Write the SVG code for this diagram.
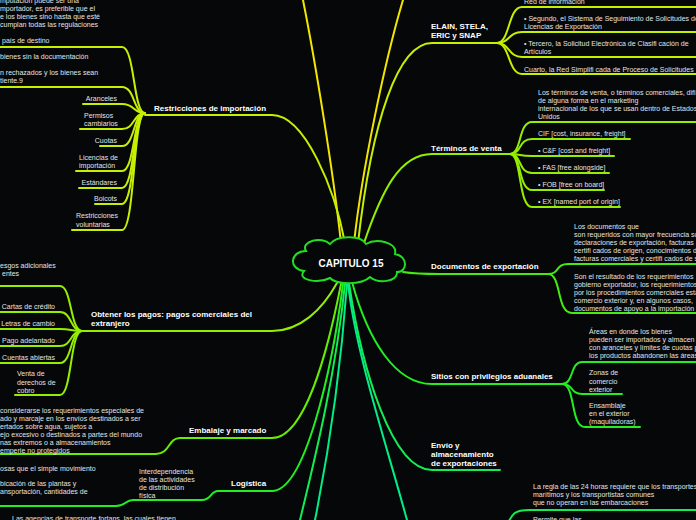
<svg xmlns="http://www.w3.org/2000/svg" width="696" height="520" viewBox="0 0 696 520">
<style>
.c{fill:none;stroke-width:2;stroke-linecap:round}
.t{font-family:"Liberation Sans",Arial,sans-serif;font-size:7px;fill:#e4e4e4}
.h{font-family:"Liberation Sans",Arial,sans-serif;font-size:8px;font-weight:bold;fill:#ffffff}
.e{text-anchor:end}
.y{stroke:#f2e600}.yg{stroke:#c6f000}.g1{stroke:#95ee00}.g2{stroke:#66ee00}.g3{stroke:#44ea10}.g4{stroke:#22ee22}.g5{stroke:#11ee55}.g6{stroke:#00ee88}
</style>
<rect width="696" height="520" fill="#050708"/>
<g id="connectors">
<path class="c y" d="M341,243 C333,170 315,60 303,0"/>
<path class="c y" d="M354,243 C362,170 385,60 403,0"/>
<path class="c yg" d="M358,243 C372,120 398,43 432,43 H497"/>
<path class="c yg" d="M497,43 C510,43 508,7 522,7 H696"/>
<path class="c yg" d="M497,43 C510,43 508,32 522,32 H696"/>
<path class="c yg" d="M497,43 C510,43 508,57 522,57 H696"/>
<path class="c yg" d="M497,43 C510,43 508,74 522,74 H696"/>
<path class="c g1" d="M364,243 C382,190 400,154 432,154 H510"/>
<path class="c g1" d="M510,154 C522,154 518,122 532,122 H696"/>
<path class="c g1" d="M510,154 C522,154 518,139 532,139 H630"/>
<path class="c g1" d="M510,154 C522,154 518,156 532,156 H614"/>
<path class="c g1" d="M510,154 C522,154 518,173 532,173 H609"/>
<path class="c g1" d="M510,154 C522,154 518,190 532,190 H604"/>
<path class="c g1" d="M510,154 C522,154 518,207 532,207 H620"/>
<path class="c g3" d="M403,272 C415,274 425,274 440,274 H548"/>
<path class="c g3" d="M548,274 C560,274 555,264 568,264 H696"/>
<path class="c g3" d="M548,274 C562,274 556,313 572,313 H696"/>
<path class="c g4" d="M352,282 C368,340 395,384 432,384 H562"/>
<path class="c g4" d="M562,384 C574,384 570,362 582,362 H696"/>
<path class="c g4" d="M562,384 C574,384 570,394 582,394 H622"/>
<path class="c g4" d="M562,384 C576,384 570,427 585,427 H640"/>
<path class="c g5" d="M349,283 C362,370 392,470 432,470 H500"/>
<path class="c g6" d="M348,283 C355,350 385,440 407,520"/>
<path class="c g5" d="M505,530 C512,512 515,510 530,510 H696"/>
<path class="c yg" d="M345,243 C335,190 305,115 272,115 H145"/>
<path class="c yg" d="M145,113 C133,113 135,47 122,47 H0"/>
<path class="c yg" d="M145,113 C133,113 135,87 122,87 H0"/>
<path class="c yg" d="M145,113 C133,113 135,104 122,104 H83"/>
<path class="c yg" d="M145,113 C133,113 135,129 122,129 H80"/>
<path class="c yg" d="M145,113 C133,113 135,146 122,146 H100"/>
<path class="c yg" d="M145,113 C133,113 135,171 122,171 H76"/>
<path class="c yg" d="M145,113 C133,113 135,188 122,188 H79"/>
<path class="c yg" d="M145,113 C133,113 135,204 122,204 H95"/>
<path class="c yg" d="M145,113 C133,113 135,230 122,230 H72"/>
<path class="c g1" d="M337,283 C322,310 300,331 272,331 H82"/>
<path class="c g1" d="M82,331 C70,331 72,286 60,286 H0"/>
<path class="c g1" d="M82,331 C70,331 72,312 60,312 H0"/>
<path class="c g1" d="M82,331 C70,331 72,329 60,329 H0"/>
<path class="c g1" d="M82,331 C70,331 72,346 60,346 H0"/>
<path class="c g1" d="M82,331 C70,331 72,363 60,363 H0"/>
<path class="c g1" d="M82,331 C70,331 72,395 60,395 H15"/>
<path class="c g2" d="M341,284 C328,350 305,438 272,438 H180"/>
<path class="c g2" d="M180,438 C168,438 170,454 156,454 H0"/>
<path class="c g4" d="M343,284 C332,370 305,491 272,491 H218"/>
<path class="c g4" d="M218,491 C210,491 212,500 202,500 H133"/>
<path class="c g4" d="M133,500 C125,500 126,506 116,506 H0"/>
<path class="c g5" d="M345,284 C335,380 312,470 300,520"/>
<path class="c g6" d="M347,284 C340,380 325,470 315,520"/>
</g>
<g id="center">
<path d="M306,251 C300,241 322,236 330,244 C336,236 360,234 366,244 C376,238 398,242 395,254 C408,256 408,272 397,272 C398,282 378,284 370,277 C362,285 336,285 330,278 C318,284 296,280 304,271 C288,269 290,251 306,251 Z" fill="#050708" stroke="#22dd22" stroke-width="2"/>
<text class="h" x="351" y="267" text-anchor="middle" style="font-size:10px">CAPITULO 15</text>
</g>
<g id="n-restricciones">
<text class="h" x="154" y="111">Restricciones de importación</text>
</g>
<g id="n-restr-1">
<text class="t" x="0" y="3">mputación puede ser una</text>
<text class="t" x="0" y="11">mportador, es preferible que el</text>
<text class="t" x="0" y="19">e los bienes sino hasta que esté</text>
<text class="t" x="0" y="27">cumplan todas las regulaciones</text>
<text class="t" x="2" y="43">país de destino</text>
</g>
<g id="n-restr-2">
<text class="t" x="0" y="59">bienes sin la documentación</text>
<text class="t" x="0" y="75">n rechazados y los bienes sean</text>
<text class="t" x="0" y="83">tiente.9</text>
</g>
<g id="n-aranceles"><text class="t e" x="117" y="101">Aranceles</text></g>
<g id="n-permisos"><text class="t" x="84" y="118">Permisos</text><text class="t" x="84" y="126">cambiarios</text></g>
<g id="n-cuotas"><text class="t e" x="117" y="143">Cuotas</text></g>
<g id="n-licencias"><text class="t" x="79" y="160">Licencias de</text><text class="t" x="79" y="168">importación</text></g>
<g id="n-estandares"><text class="t e" x="117" y="185">Estándares</text></g>
<g id="n-boicots"><text class="t e" x="117" y="201">Boicots</text></g>
<g id="n-voluntarias"><text class="t" x="76" y="218">Restricciones</text><text class="t" x="76" y="227">voluntarias</text></g>
<g id="n-elain">
<text class="h" x="431" y="29">ELAIN, STELA,</text>
<text class="h" x="431" y="38">ERIC y SNAP</text>
</g>
<g id="n-elain-1"><text class="t" x="524" y="4">Red de información</text></g>
<g id="n-elain-2"><text class="t" x="524" y="21">• Segundo, el Sistema de Seguimiento de Solicitudes de</text><text class="t" x="524" y="29">Licencias de Exportación</text></g>
<g id="n-elain-3"><text class="t" x="524" y="46">• Tercero, la Solicitud Electrónica de Clasifi cación de</text><text class="t" x="524" y="54">Artículos</text></g>
<g id="n-elain-4"><text class="t" x="524" y="71.5">Cuarto, la Red Simplifi cada de Proceso de Solicitudes</text></g>
<g id="n-terminos"><text class="h" x="431" y="151">Términos de venta</text></g>
<g id="n-term-1">
<text class="t" x="538" y="95">Los términos de venta, o términos comerciales, difi</text>
<text class="t" x="538" y="103">de alguna forma en el marketing</text>
<text class="t" x="538" y="111">internacional de los que se usan dentro de Estados</text>
<text class="t" x="538" y="119">Unidos</text>
</g>
<g id="n-cif"><text class="t" x="538" y="136">CIF [cost, insurance, freight]</text></g>
<g id="n-cf"><text class="t" x="538" y="153">• C&amp;F [cost and freight]</text></g>
<g id="n-fas"><text class="t" x="538" y="170">• FAS [free alongside]</text></g>
<g id="n-fob"><text class="t" x="538" y="187">• FOB [free on board]</text></g>
<g id="n-ex"><text class="t" x="538" y="204">• EX [named port of origin]</text></g>
<g id="n-documentos"><text class="h" x="431" y="269">Documentos de exportación</text></g>
<g id="n-doc-1">
<text class="t" x="574" y="229">Los documentos que</text>
<text class="t" x="574" y="237">son requeridos con mayor frecuencia so</text>
<text class="t" x="574" y="245">declaraciones de exportación, facturas</text>
<text class="t" x="574" y="253">certifi cados de origen, conocimientos d</text>
<text class="t" x="574" y="261">facturas comerciales y certifi cados de s</text>
</g>
<g id="n-doc-2">
<text class="t" x="574" y="278.5">Son el resultado de los requerimientos</text>
<text class="t" x="574" y="286.5">gobierno exportador, los requerimientos</text>
<text class="t" x="574" y="294.5">por los procedimientos comerciales esta</text>
<text class="t" x="574" y="302.5">comercio exterior y, en algunos casos,</text>
<text class="t" x="574" y="310.5">documentos de apoyo a la importación</text>
</g>
<g id="n-sitios"><text class="h" x="431" y="379">Sitios con privilegios aduanales</text></g>
<g id="n-sit-1">
<text class="t" x="589" y="333.5">Áreas en donde los bienes</text>
<text class="t" x="589" y="341.5"> pueden ser importados y almacen</text>
<text class="t" x="589" y="349.5">con aranceles y límites de cuotas p</text>
<text class="t" x="589" y="357.5">los productos abandonen las áreas</text>
</g>
<g id="n-zonas"><text class="t" x="589" y="375">Zonas de</text><text class="t" x="589" y="383.5">comercio</text><text class="t" x="589" y="391.5">exterior</text></g>
<g id="n-ensamblaje"><text class="t" x="589" y="407.5">Ensamblaje</text><text class="t" x="589" y="416">en el exterior</text><text class="t" x="589" y="424">(maquiladoras)</text></g>
<g id="n-envio"><text class="h" x="431" y="448">Envío y</text><text class="h" x="431" y="457">almacenamiento</text><text class="h" x="431" y="466">de exportaciones</text></g>
<g id="n-regla">
<text class="t" x="533" y="488.5">La regla de las 24 horas requiere que los transportes</text>
<text class="t" x="533" y="497">marítimos y los transportistas comunes</text>
<text class="t" x="533" y="505">que no operan en las embarcaciones</text>
</g>
<g id="n-permite"><text class="t" x="533" y="522">Permite que las</text></g>
<g id="n-pagos"><text class="h" x="91" y="317">Obtener los pagos: pagos comerciales del</text><text class="h" x="91" y="326">extranjero</text></g>
<g id="n-pag-1"><text class="t" x="0" y="267.5">esgos adicionales</text><text class="t" x="2" y="275.5">entes</text></g>
<g id="n-cartas"><text class="t e" x="55" y="308.5">Cartas de crédito</text></g>
<g id="n-letras"><text class="t e" x="55" y="325.5">Letras de cambio</text></g>
<g id="n-pago"><text class="t e" x="55" y="342.5">Pago adelantado</text></g>
<g id="n-cuentas"><text class="t e" x="55" y="359.5">Cuentas abiertas</text></g>
<g id="n-venta"><text class="t" x="17" y="376">Venta de</text><text class="t" x="17" y="384.5">derechos de</text><text class="t" x="17" y="393">cobro</text></g>
<g id="n-embalaje"><text class="h" x="189" y="433">Embalaje y marcado</text></g>
<g id="n-emb-1">
<text class="t" x="0" y="412.5">considerarse los requerimientos especiales de</text>
<text class="t" x="0" y="420.5">ado y marcaje en los envíos destinados a ser</text>
<text class="t" x="0" y="429">ertados sobre agua, sujetos a</text>
<text class="t" x="0" y="437">ejo excesivo o destinados a partes del mundo</text>
<text class="t" x="0" y="445">nas extremos o a almacenamientos</text>
<text class="t" x="0" y="452.5">emperie no protegidos</text>
</g>
<g id="n-logistica"><text class="h" x="231" y="486">Logística</text></g>
<g id="n-interdep"><text class="t" x="139" y="473.5">Interdependencia</text><text class="t" x="139" y="481.5">de las actividades</text><text class="t" x="139" y="489.5">de distribución</text><text class="t" x="139" y="497.5">física</text></g>
<g id="n-log-2">
<text class="t" x="0" y="470.5">osas que el simple movimiento</text>
<text class="t" x="0" y="485.5">bicación de las plantas y</text>
<text class="t" x="0" y="494">ansportación, cantidades de</text>
</g>
<g id="n-agencias"><text class="t" x="12" y="521">Las agencias de transporte fortans, las cuales tienen</text></g>
</svg>
